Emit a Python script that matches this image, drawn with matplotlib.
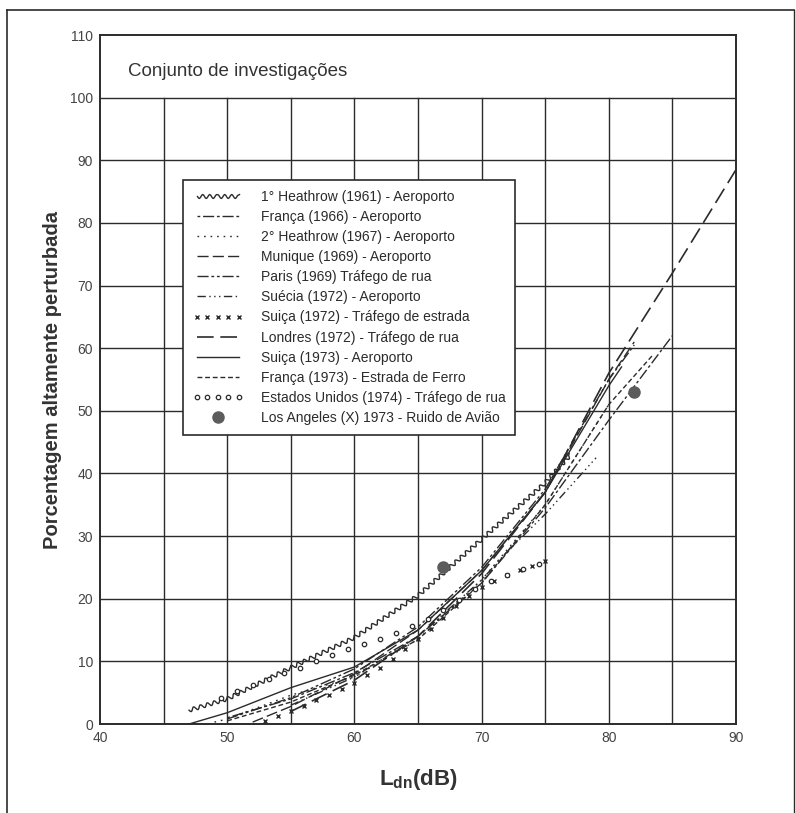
import numpy as np
import matplotlib.pyplot as plt
from matplotlib.lines import Line2D

# ---------------- Fonts ---------------- #
plt.rcParams['font.family'] = ['Liberation Sans', 'DejaVu Sans']
plt.rcParams['mathtext.fontset'] = 'custom'
plt.rcParams['mathtext.rm'] = 'Liberation Sans'
plt.rcParams['mathtext.bf'] = 'Liberation Sans:bold'

INK = '#2b2b2b'

# ---------------- Data ---------------- #
heathrow61_x = [47, 48, 50, 55, 60, 65, 70, 75, 77]
heathrow61_y = [2.2, 2.8, 4.0, 9.0, 13.8, 20.5, 29.5, 38.5, 43.0]

franca66_x = [50, 55, 60, 65, 70, 75, 80, 85]
franca66_y = [1.0, 4.0, 8.2, 14.0, 22.5, 34.5, 48.5, 62.0]

heathrow67_x = [49, 50, 55, 60, 65, 70, 75, 80]
heathrow67_y = [0.3, 0.8, 4.6, 7.5, 13.5, 23.0, 35.0, 51.0]

munique69_x = [52, 55, 60, 65, 70, 75, 80, 82]
munique69_y = [0.3, 2.8, 8.0, 15.0, 24.5, 37.0, 55.0, 61.0]

paris69_x = [50, 55, 60, 65, 70, 75, 80, 82]
paris69_y = [0.8, 4.2, 8.8, 15.5, 25.0, 37.5, 55.0, 60.5]

suecia72_x = [55, 60, 65, 70, 72, 75, 79]
suecia72_y = [3.0, 7.5, 14.0, 23.0, 27.5, 33.5, 42.5]

suica72_x = [53, 54, 55, 56, 57, 58, 59, 60, 61, 62, 63, 64,
             65, 66, 67, 68, 69, 70, 71, 72, 73, 74, 75]
suica72_y = [0.5, 1.2, 2.0, 2.9, 3.8, 4.7, 5.6, 6.6, 7.8, 9.0, 10.4, 11.9,
             13.5, 15.2, 17.0, 18.8, 20.4, 21.8, 22.9, 23.8, 24.6, 25.3, 26.0]

londres72_x = [55, 60, 65, 70, 75, 80, 85, 90]
londres72_y = [2.0, 7.0, 14.0, 24.0, 37.0, 56.0, 72.0, 88.5]

suica73_x = [47, 50, 55, 60, 65, 70, 75, 80, 81]
suica73_y = [0.0, 1.8, 5.8, 9.1, 15.0, 24.5, 37.0, 54.0, 57.0]

franca73_x = [50, 55, 60, 65, 70, 75, 80, 83.5]
franca73_y = [0.5, 3.5, 7.8, 13.5, 22.5, 35.0, 51.0, 59.0]

eua74_x = [49.5, 50.75, 52, 53.25, 54.5, 55.75, 57, 58.25, 59.5, 60.75, 62,
           63.25, 64.5, 65.75, 67, 68.25, 69.5, 70.75, 72, 73.25, 74.5]
eua74_y = [4.2, 5.2, 6.2, 7.2, 8.1, 9.0, 10.0, 11.0, 12.0, 12.8, 13.6,
           14.6, 15.6, 16.8, 18.2, 19.8, 21.5, 22.8, 23.8, 24.8, 25.6]

la73_x = [67, 82]
la73_y = [25, 53]

labels = [
    '1° Heathrow (1961) - Aeroporto',
    'França (1966) - Aeroporto',
    '2° Heathrow (1967) - Aeroporto',
    'Munique (1969) - Aeroporto',
    'Paris (1969) Tráfego de rua',
    'Suécia (1972) - Aeroporto',
    'Suiça (1972) - Tráfego de estrada',
    'Londres (1972) - Tráfego de rua',
    'Suiça (1973) - Aeroporto',
    'França (1973) - Estrada de Ferro',
    'Estados Unidos (1974) - Tráfego de rua',
    'Los Angeles (X) 1973 - Ruido de Avião',
]

x_ticks = [40, 50, 60, 70, 80, 90]
y_ticks = list(range(0, 111, 10))

# ---------------- Figure ---------------- #
fig = plt.figure(figsize=(7.96, 8.13), dpi=100)
ax = fig.add_axes([100 / 796, 89 / 813, 636 / 796, 689 / 813])
ax.set_xlim(40, 90)
ax.set_ylim(0, 110)

# outer frame of the scanned page
fig.add_artist(Line2D([7 / 796, 7 / 796], [0, 803 / 813], color=INK, lw=1.2))
fig.add_artist(Line2D([7 / 796, 794 / 796], [803 / 813, 803 / 813], color=INK, lw=1.2))
fig.add_artist(Line2D([794 / 796, 794 / 796], [0, 803 / 813], color=INK, lw=1.0))

# grid: verticals every 5 dB stop at 100 %, horizontals every 10 %
for gx in np.arange(45, 90, 5):
    ax.plot([gx, gx], [0, 100], color=INK, lw=1.0, zorder=1)
for gy in range(10, 101, 10):
    ax.plot([40, 90], [gy, gy], color=INK, lw=1.0, zorder=1)

for s in ax.spines.values():
    s.set_color(INK)
    s.set_linewidth(1.4)

# ---------------- Curves ---------------- #
kw = dict(color=INK, lw=1.0, zorder=3)
h1, = ax.plot(heathrow61_x, heathrow61_y, **kw)
h1.set_sketch_params(2.0, 7.0, 1.0)
h2, = ax.plot(franca66_x, franca66_y, dashes=[2, 2, 8, 2], **kw)
h3, = ax.plot(heathrow67_x, heathrow67_y, dashes=[1.2, 3.5], **kw)
h4, = ax.plot(munique69_x, munique69_y, dashes=[8, 3], **kw)
h5, = ax.plot(paris69_x, paris69_y, dashes=[8, 2, 2, 2, 2, 2], **kw)
h6, = ax.plot(suecia72_x, suecia72_y, dashes=[6, 2.5, 1, 2.5, 1, 2.5, 1, 2.5], **kw)
h7, = ax.plot(suica72_x, suica72_y, ls='none', marker='x', ms=3.2, mew=1.0,
              color=INK, zorder=3)
h8, = ax.plot(londres72_x, londres72_y, dashes=[10, 4], color=INK, lw=1.2, zorder=3)
h9, = ax.plot(suica73_x, suica73_y, **kw)
h10, = ax.plot(franca73_x, franca73_y, dashes=[3.5, 2], **kw)
h11, = ax.plot(eua74_x, eua74_y, ls='none', marker='o', ms=3.2, mew=0.9,
               mfc='white', color=INK, zorder=3)
h12, = ax.plot(la73_x, la73_y, ls='none', marker='o', ms=8, color='#5c5c5c',
               zorder=4)

handles = [h1, h2, h3, h4, h5, h6, h7, h8, h9, h10, h11, h12]
leg = ax.legend(handles, labels, loc='upper left', bbox_to_anchor=(0.1305, 0.7895),
                borderaxespad=0, fontsize=10, frameon=True, fancybox=False,
                framealpha=1, edgecolor=INK, handlelength=3.6, handletextpad=1.3,
                labelspacing=0.44, borderpad=0.7, numpoints=5)
leg.get_frame().set_linewidth(1.2)
leg.set_zorder(5)
for t in leg.get_texts():
    t.set_color(INK)
# single marker for the Los Angeles entry
leg.legend_handles[11].set_markevery([2])

# ---------------- Text ---------------- #
ax.text(42.2, 104.2, 'Conjunto de investigações', fontsize=13.5, color='#333333',
        va='center', ha='left')

ax.set_xticks(x_ticks)
ax.set_yticks(y_ticks)
ax.tick_params(length=0, labelsize=10, labelcolor='#444444', pad=5)

ax.set_ylabel('Porcentagem altamente perturbada', fontsize=14.5, fontweight='bold',
              color='#333333', labelpad=6)
ax.set_xlabel(r'$\mathbf{L_{dn}}$(dB)', fontsize=16, fontweight='bold',
              color='#333333', labelpad=16)

fig.savefig('out.png', dpi=100)
